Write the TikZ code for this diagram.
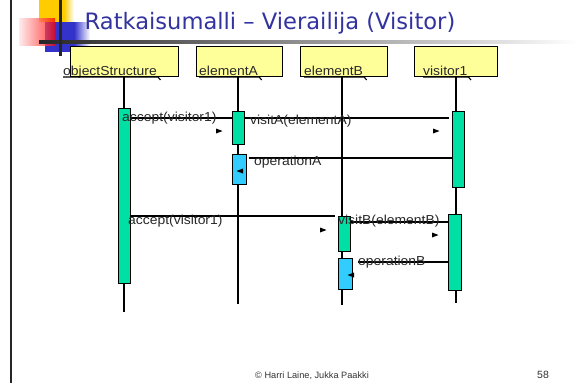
\documentclass[tikz,border=0pt]{standalone}
\usepackage{fontspec}
\setmainfont{Liberation Sans}
\newfontfamily\titlefont{DejaVu Sans}
\definecolor{titleblue}{RGB}{51,51,160}
\definecolor{objyellow}{RGB}{255,255,153}
\definecolor{actgreen}{RGB}{0,224,164}
\definecolor{actblue}{RGB}{51,204,255}
\definecolor{logoyellow}{RGB}{255,204,0}
\definecolor{logoblue}{RGB}{51,51,204}
\definecolor{labelgray}{RGB}{40,40,40}
\newcommand\widetext[1]{\scalebox{1.07}[1]{#1}}
\tikzset{
  objbox/.style={draw=black, line width=1.3pt, fill=objyellow, inner sep=0pt,
    minimum height=30pt, anchor=north west},
  objlabel/.style={inner sep=0pt, anchor=base west, text=labelgray,
    font=\fontsize{13}{15}\selectfont},
  life/.style={draw=black, line width=1.3pt},
  actbar/.style={draw=black, line width=1.2pt, fill=actgreen, inner sep=0pt,
    anchor=north west},
  opbar/.style={actbar, fill=actblue},
  msg/.style={draw=black, line width=1.2pt},
  msglabel/.style={inner sep=0pt, anchor=base west, text=labelgray,
    font=\fontsize{13}{15}\selectfont},
  tipR/.pic={\fill (-3,-2.5) -- (3.5,0) -- (-3,2.5) -- cycle;},
  tipL/.pic={\fill (3,-2.5) -- (-3.5,0) -- (3,2.5) -- cycle;}
}
\begin{document}
\begin{tikzpicture}[x=1pt,y=-1pt]
\useasboundingbox (0,0) rectangle (578,383);
\fill[white] (0,0) rectangle (578,383);

% slide frame and logo
\draw[line width=1.6pt, black!85] (11,0) -- (11,383);
\fill[logoyellow] (39,0) rectangle (64,22);
\shade[left color=logoyellow, right color=white] (64,0) rectangle (74,22);
\fill[logoblue] (45,22) rectangle (74,52);
\shade[left color=logoblue, right color=white] (74,22) rectangle (90,52);
\shade[left color=red!10, right color=red, opacity=0.75] (19,18) rectangle (55,45);
\shade[left color=black!85, right color=white] (39,40) rectangle (578,43);
\fill[black!85] (58.5,0) rectangle (61.5,56);

% title
\node[inner sep=0pt, anchor=base west, text=titleblue,
  font=\titlefont\fontsize{22.6}{26}\selectfont] (title) at (84.5,29)
  {Ratkaisumalli – Vierailija (Visitor)};

% object boxes
\node[objbox, minimum width=108pt] (obs) at (70,46) {};
\node[objbox, minimum width=86pt] (ea) at (196,46) {};
\node[objbox, minimum width=87pt] (eb) at (300,46) {};
\node[objbox, minimum width=83pt] (vis) at (414,46) {};

% lifelines
\coordinate (obsEnd) at (124,312);
\coordinate (eaEnd) at (238,304);
\coordinate (ebEnd) at (342,305);
\coordinate (visEnd) at (456,303);
\draw[life] (obs.south -| obsEnd) -- (obsEnd);
\draw[life] (ea.south -| eaEnd) -- (eaEnd);
\draw[life] (eb.south -| ebEnd) -- (ebEnd);
\draw[life] (vis.south -| visEnd) -- (visEnd);

% object names, underlined
\foreach \nm/\txt/\x in {lobs/objectStructure/63, lea/elementA/199,
                         leb/elementB/304, lvis/visitor1/423} {
  \node[objlabel] (\nm) at (\x,75.5) {\widetext{\txt}};
  \draw[line width=1.1pt, black] ([yshift=-1.5pt]\nm.base west)
    -- ([yshift=-1.5pt,xshift=1pt]\nm.base east) -- ++(2.5,3);
}

% activations
\node[actbar, minimum width=12pt, minimum height=175pt] (obsAct) at (118,108) {};
\node[actbar, minimum width=12pt, minimum height=33pt] (eaAct) at (232,111) {};
\node[opbar, minimum width=13.5pt, minimum height=30pt] (eaOp) at (232,154) {};
\node[actbar, minimum width=12pt, minimum height=76pt] (visAct1) at (452,111) {};
\node[actbar, minimum width=12pt, minimum height=35pt] (ebAct) at (338,216) {};
\node[opbar, minimum width=13.5pt, minimum height=31pt] (ebOp) at (338,258) {};
\node[actbar, minimum width=13pt, minimum height=76pt] (visAct2) at (448,214) {};

% messages
\coordinate (m1) at (0,118);
\coordinate (m2) at (0,118);
\coordinate (m3) at (0,158);
\coordinate (m4) at (0,216);
\coordinate (m5) at (0,222);
\coordinate (m6) at (0,262);
\draw[msg] (obsAct.east |- m1) -- (eaAct.west |- m1);
\draw[msg] (eaAct.east |- m2) -- ([xshift=-3pt]visAct1.west |- m2);
\draw[msg] ([xshift=2pt]eaOp.east |- m3) -- (visAct1.west |- m3);
\draw[msg] (obsAct.east |- m4) -- ([xshift=-3pt]ebAct.west |- m4);
\draw[msg] (ebAct.east |- m5) -- (visAct2.west |- m5);
\draw[msg] ([xshift=5pt]ebOp.east |- m6) -- (visAct2.west |- m6);

\node[msglabel] (t1) at (122,121) {\widetext{accept(visitor1)}};
\node[msglabel] (t2) at (250,124.5) {\widetext{visitA(elementA)}};
\node[msglabel] (t3) at (254,165.5) {\widetext{operationA}};
\node[msglabel] (t4) at (128,224.5) {\widetext{accept(visitor1)}};
\node[msglabel] (t5) at (338,224.5) {\widetext{visitB(elementB)}};
\node[msglabel] (t6) at (358,265.5) {\widetext{operationB}};

\pic at (219,131) {tipR};
\pic at (436,131) {tipR};
\pic at (240,171) {tipL};
\pic at (323,230) {tipR};
\pic at (435,235) {tipR};
\pic at (351,275) {tipL};

% footer
\node[inner sep=0pt, anchor=base west, font=\fontsize{9.2}{11}\selectfont,
  text=black!80] (foot) at (255,378) {© Harri Laine, Jukka Paakki};
\node[inner sep=0pt, anchor=base west, font=\fontsize{10.5}{12}\selectfont,
  text=black!80] (page) at (537,378) {58};
\end{tikzpicture}
\end{document}
